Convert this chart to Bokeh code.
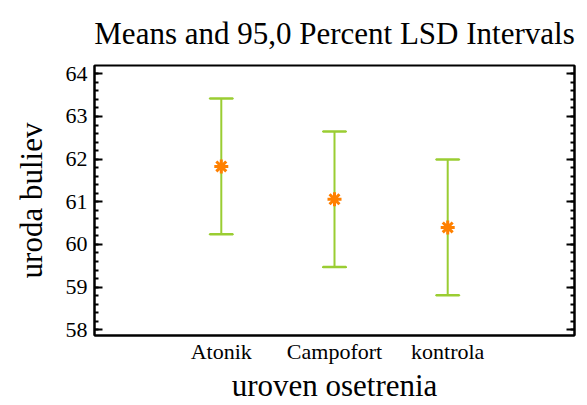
from bokeh.plotting import figure
from bokeh.models import (Range1d, FixedTicker, LinearAxis, SingleIntervalTicker,
                          CustomLabelingPolicy)
from bokeh.embed import file_html
from bokeh.resources import INLINE

# Treatment levels and their mean yields with 95% LSD half-widths
categories = ["Atonik", "Campofort", "kontrola"]
means = [61.83, 61.06, 60.40]
lsd_half = [1.59, 1.59, 1.59]

xs = list(range(1, len(categories) + 1))
lower = [m - h for m, h in zip(means, lsd_half)]
upper = [m + h for m, h in zip(means, lsd_half)]

SERIF = "Liberation Serif"
GREEN = "#9acd32"
ORANGE = "#ff8000"

p = figure(width=587, height=405, output_backend="svg", toolbar_location=None,
           x_range=Range1d(-0.12, 4.12), y_range=Range1d(57.866, 64.195),
           min_border_left=94, min_border_right=13, min_border_top=65,
           min_border_bottom=68)

p.title.text = "Means and 95,0 Percent LSD Intervals"
p.title.text_font = SERIF
p.title.text_font_size = "31px"
p.title.text_font_style = "normal"
p.title.align = "center"
p.title.vertical_align = "top"
p.title.text_color = "black"
p.title.standoff = 26

p.grid.visible = False
p.outline_line_color = "black"
p.outline_line_width = 2
p.background_fill_color = "white"
p.border_fill_color = "white"

# interval whiskers and caps
p.segment(x0=xs, y0=lower, x1=xs, y1=upper, line_color=GREEN, line_width=2)
p.rect(x=xs, y=lower, width=23, height=0.5, width_units="screen",
       height_units="screen", line_color=GREEN, line_width=2, fill_color=None)
p.rect(x=xs, y=upper, width=23, height=0.5, width_units="screen",
       height_units="screen", line_color=GREEN, line_width=2, fill_color=None)
p.scatter(x=xs, y=means, marker="asterisk", size=14, line_color=ORANGE,
          line_width=3)

# x axis: category names, no ticks
xa = p.xaxis[0]
xa.ticker = FixedTicker(ticks=xs)
xa.major_label_overrides = {x: c for x, c in zip(xs, categories)}
xa.major_tick_line_color = None
xa.minor_tick_line_color = None
xa.major_tick_in = 0
xa.major_tick_out = 0
xa.minor_tick_in = 0
xa.minor_tick_out = 0
xa.axis_line_width = 2
xa.major_label_text_font = SERIF
xa.major_label_text_font_size = "22px"
xa.major_label_text_color = "black"
xa.major_label_standoff = 3
xa.axis_label = "uroven osetrenia"
xa.axis_label_text_font = SERIF
xa.axis_label_text_font_size = "31px"
xa.axis_label_text_font_style = "normal"
xa.axis_label_text_color = "black"
xa.axis_label_standoff = 1

# y axis: inward ticks with five minor divisions
ya = p.yaxis[0]
ya.ticker = SingleIntervalTicker(interval=1, num_minor_ticks=5)
ya.major_tick_in = 8
ya.major_tick_out = 0
ya.minor_tick_in = 4
ya.minor_tick_out = 0
ya.major_tick_line_width = 2
ya.minor_tick_line_width = 2
ya.axis_line_width = 2
ya.major_label_text_font = SERIF
ya.major_label_text_font_size = "22px"
ya.major_label_text_color = "black"
ya.major_label_standoff = 7
ya.axis_label = "uroda buliev"
ya.axis_label_text_font = SERIF
ya.axis_label_text_font_size = "31px"
ya.axis_label_text_font_style = "normal"
ya.axis_label_text_color = "black"
ya.axis_label_standoff = 14

# mirrored ticks on the right edge, without labels
ra = LinearAxis(ticker=SingleIntervalTicker(interval=1, num_minor_ticks=5),
                major_tick_in=8, major_tick_out=0, minor_tick_in=4,
                minor_tick_out=0, major_tick_line_width=2,
                minor_tick_line_width=2, axis_line_width=2,
                major_label_standoff=0, major_label_text_font_size="2px",
                major_label_policy=CustomLabelingPolicy(code="return new Set()"))
p.add_layout(ra, "right")

open("out.html", "w").write(file_html(p, INLINE))
